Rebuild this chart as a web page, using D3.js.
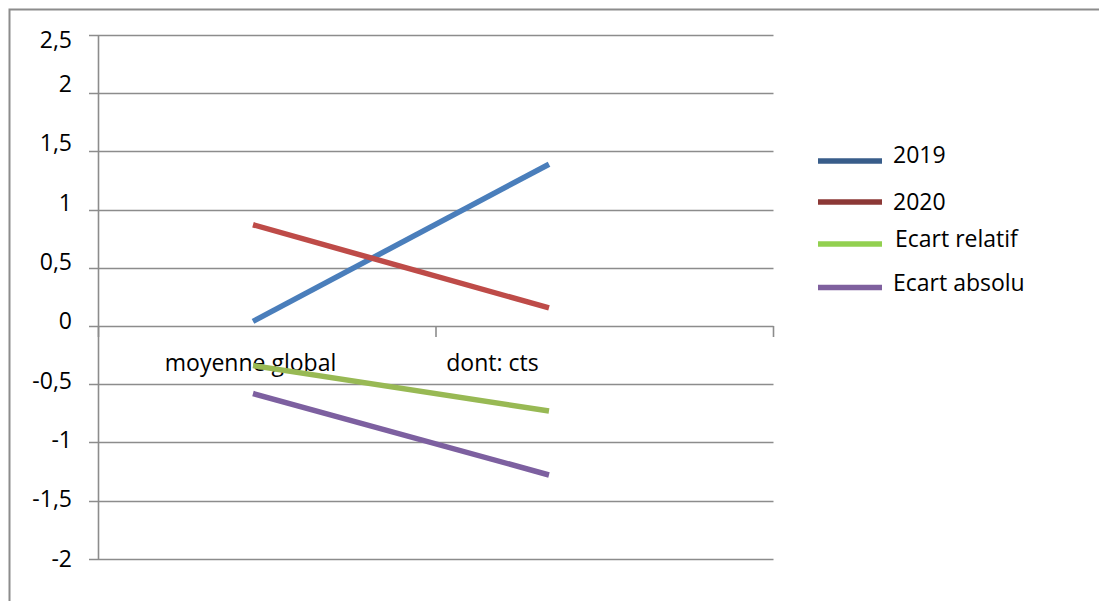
<!DOCTYPE html>
<html>
<head>
<meta charset="utf-8">
<script src="https://cdn.jsdelivr.net/npm/d3@7"></script>
<style>
  html, body { margin: 0; padding: 0; background: #fff; }
  svg { display: block; }
  text { font-family: "Open Sans", "Liberation Sans", sans-serif; fill: #000; }
</style>
</head>
<body>
<svg id="chart" width="1099" height="601"></svg>
<script>
const categories = ["moyenne global", "dont: cts"];
const seriesNames = ["2019", "2020", "Ecart relatif", "Ecart absolu"];
const values2019 = [0.04, 1.39];
const values2020 = [0.87, 0.155];
const valuesEcartRelatif = [-0.34, -0.73];
const valuesEcartAbsolu = [-0.58, -1.28];
const yTicks = [2.5, 2, 1.5, 1, 0.5, 0, -0.5, -1, -1.5, -2];
const yTickLabels = ["2,5", "2", "1,5", "1", "0,5", "0", "-0,5", "-1", "-1,5", "-2"];

const lineColors = ["#4a7ebb", "#be4b48", "#98b954", "#7d60a0"];
const legendColors = ["#385d8a", "#8c3836", "#92d050", "#7f609e"];

const series = [values2019, values2020, valuesEcartRelatif, valuesEcartAbsolu].map((v, i) => ({
  name: seriesNames[i], values: v, color: lineColors[i], legendColor: legendColors[i]
}));

const svg = d3.select("#chart");
const gridColor = "#8c8c8c";

// outer chart border (extends past right/bottom edge)
svg.append("rect").attr("x", 9.5).attr("y", 9.5).attr("width", 1100).attr("height", 600)
  .attr("fill", "none").attr("stroke", gridColor).attr("stroke-width", 2);

const y = d3.scaleLinear().domain([-2, 2.5]).range([558.8, 35]);
const yLabel = d3.scaleLinear().domain([2.5, 2, -2]).range([38.5, 83, 557.5]);
const xBand = d3.scaleBand().domain(categories).range([98.5, 773.5]);
const xPoint = d3.scalePoint().domain(categories).range([253, 549]);
const xLabel = d3.scalePoint().domain(categories).range([250.5, 492.5]);

// gridlines with left tick stubs
svg.append("g").selectAll("line").data(yTicks).join("line")
  .attr("x1", 89).attr("x2", 773.5)
  .attr("y1", d => Math.round(y(d)) + 0.5).attr("y2", d => Math.round(y(d)) + 0.5)
  .attr("stroke", gridColor).attr("stroke-width", 1.6);

// y axis line
svg.append("line").attr("x1", 98.5).attr("x2", 98.5)
  .attr("y1", Math.round(y(2.5))).attr("y2", Math.round(y(-2)) + 1)
  .attr("stroke", gridColor).attr("stroke-width", 1.6);

// x axis tick marks at band boundaries
const boundaries = categories.map(c => xBand(c)).concat([xBand.range()[1]]);
svg.append("g").selectAll("line").data(boundaries).join("line")
  .attr("x1", d => d).attr("x2", d => d)
  .attr("y1", Math.round(y(0))).attr("y2", Math.round(y(0)) + 11)
  .attr("stroke", gridColor).attr("stroke-width", 1.6);

// y tick labels
svg.append("g").selectAll("text").data(yTicks).join("text")
  .attr("x", 72).attr("y", d => yLabel(d))
  .attr("text-anchor", "end").attr("dominant-baseline", "central")
  .attr("font-size", 23)
  .text((d, i) => yTickLabels[i]);

// category labels (under the lines, as in the reference)
svg.append("g").selectAll("text").data(categories).join("text")
  .attr("x", d => xLabel(d)).attr("y", 371)
  .attr("text-anchor", "middle").attr("font-size", 23)
  .text(d => d);

// series lines
const line = d3.line().x((d, i) => xPoint(categories[i])).y(d => y(d));
svg.append("g").selectAll("path").data(series).join("path")
  .attr("d", s => line(s.values))
  .attr("fill", "none").attr("stroke", s => s.color)
  .attr("stroke-width", 5.5).attr("stroke-linecap", "butt");

// legend
const legendY = [161, 202, 244, 287.5];
const legendTextX = [893, 893, 895, 893];
const legendTextBase = [163, 210, 247, 291];
const lg = svg.append("g").selectAll("g").data(series).join("g");
lg.append("line")
  .attr("x1", 818).attr("x2", 882)
  .attr("y1", (d, i) => legendY[i]).attr("y2", (d, i) => legendY[i])
  .attr("stroke", d => d.legendColor).attr("stroke-width", 5.5);
lg.append("text")
  .attr("x", (d, i) => legendTextX[i]).attr("y", (d, i) => legendTextBase[i])
  .attr("font-size", 23)
  .text(d => d.name);
</script>
</body>
</html>
